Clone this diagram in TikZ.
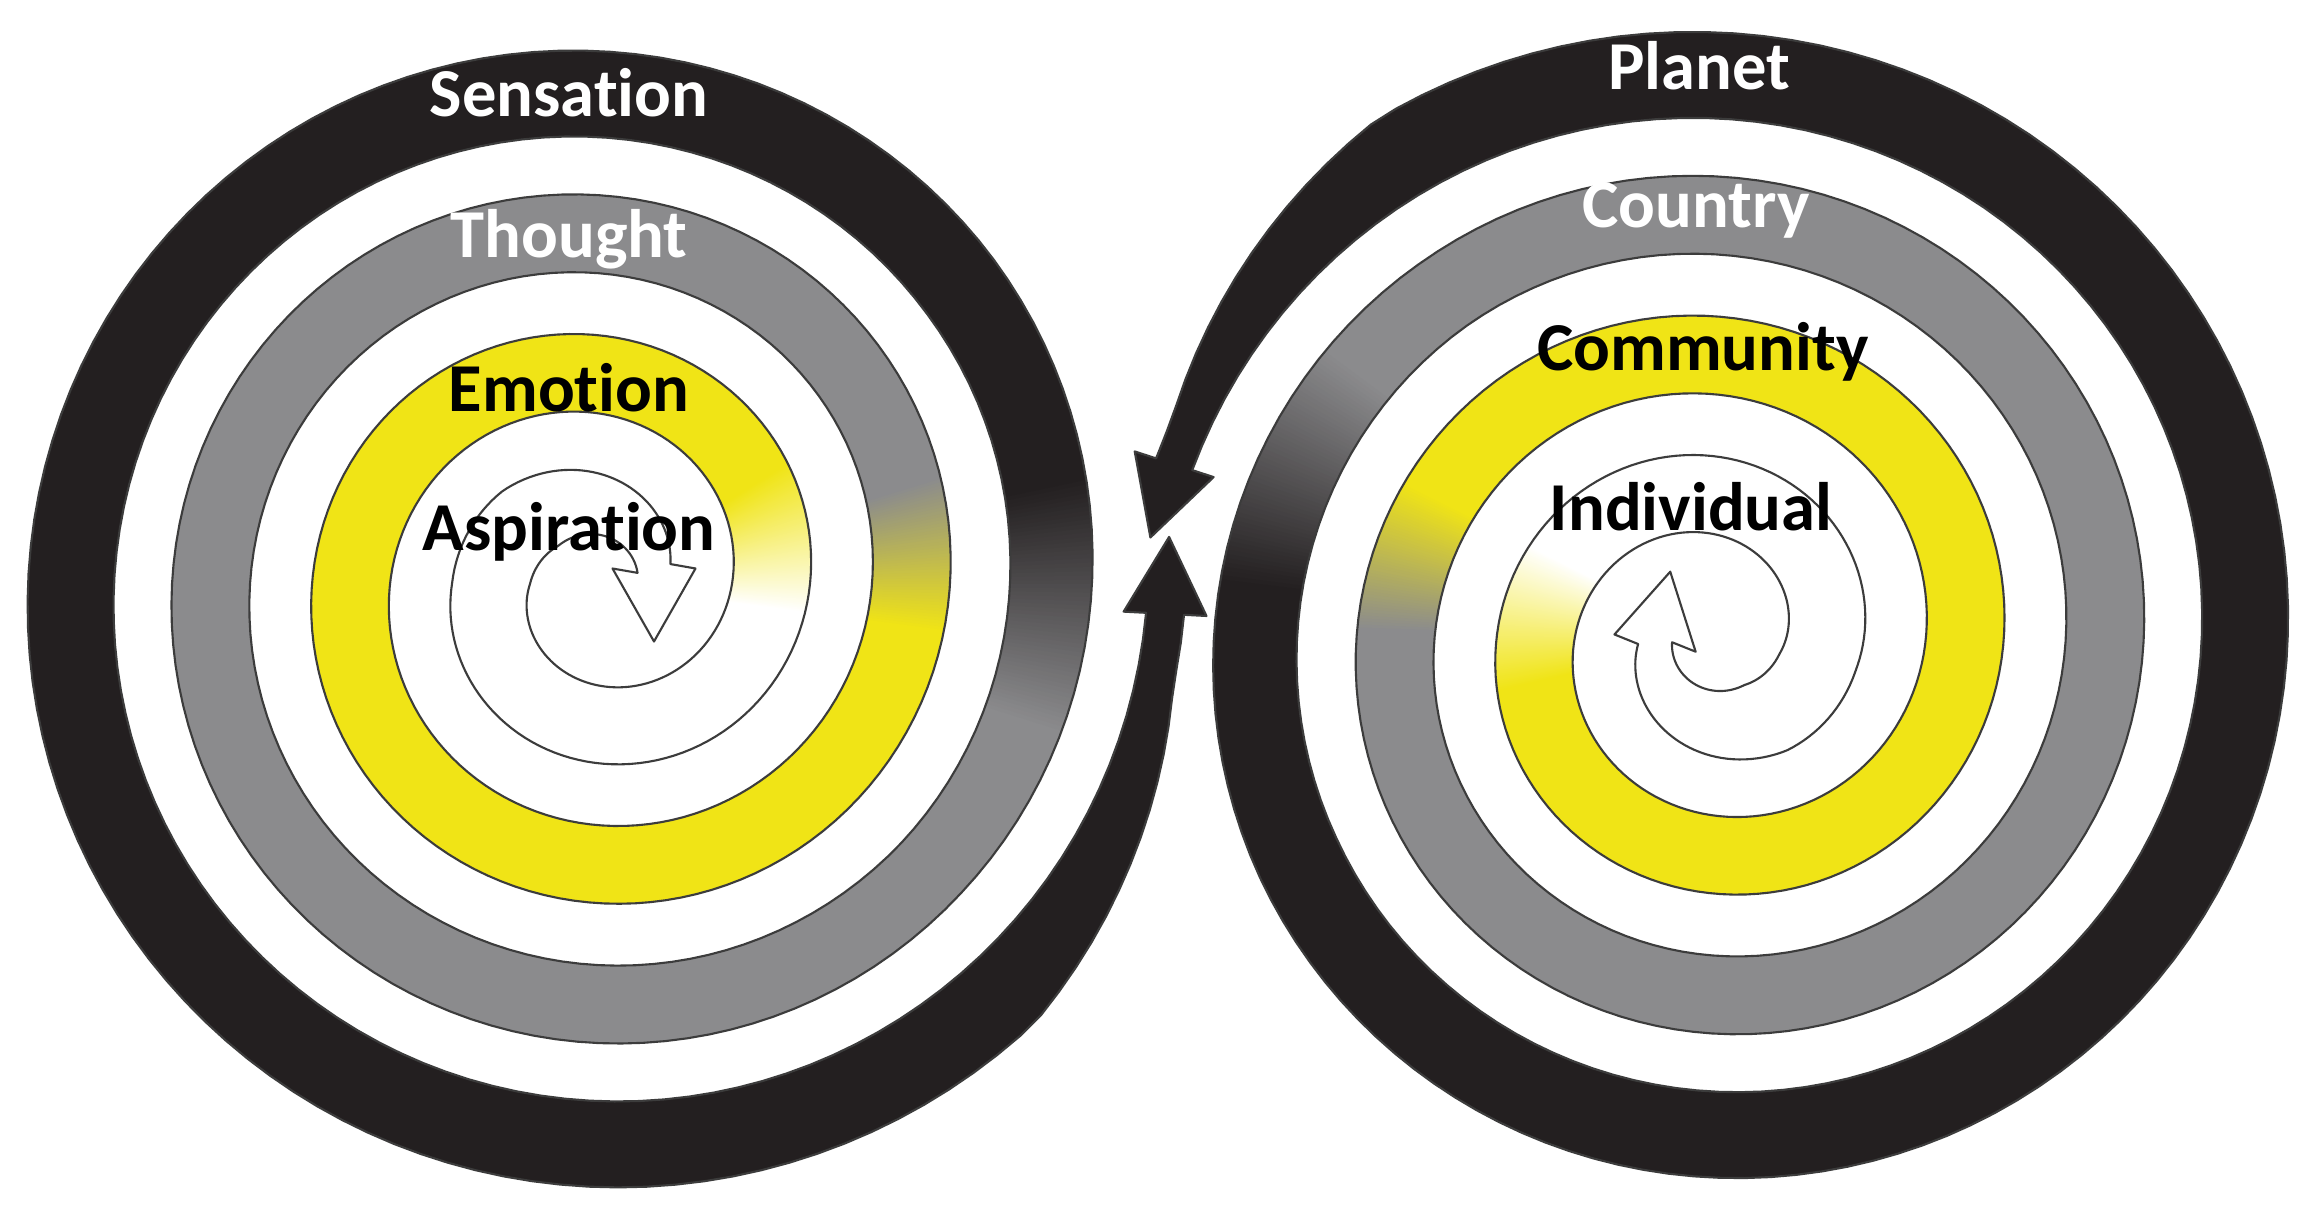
\documentclass[tikz,border=0pt]{standalone}
\usepackage{fontspec}
\setmainfont{Carlito}[Ligatures=NoCommon]
\definecolor{spyellow}{RGB}{240,228,22}
\definecolor{spgray}{RGB}{139,139,141}
\definecolor{spblack}{RGB}{35,31,32}
\definecolor{spedge}{RGB}{60,60,60}
\tikzset{
  declare function={
    rc(\u)=(\u<180)*(60+(\u-15)/165*45)+(1-(\u<180))*(105+(\u-180)/360*140)-24*min(1,max(0,(\u-1395)/35));
    bw(\u)=34+44*min(1,max(0,(\u-15)/120))+8*min(1,max(0,(\u-1040)/80))-48*min(1,max(0,(\u-1395)/35));
    ri(\u)=rc(\u)-bw(\u)/2;
    ro(\u)=rc(\u)+bw(\u)/2;
  },
  bandedge/.style={draw=spedge, line width=0.6pt, line join=round},
  ringtext/.style={font=\fontsize{19.5}{23}\selectfont\bfseries, inner sep=0pt},
}
% spiral band: centre x, centre y, rotation, colour shift, outer end
\def\spiralband#1#2#3#4#5{%
  \begin{scope}[shift={(#1,#2)}, rotate=#3]
    \pgfmathsetmacro\wa{360+#4}\pgfmathsetmacro\wb{400+#4}
    \pgfmathsetmacro\ga{720+#4}\pgfmathsetmacro\gb{745+#4}
    \pgfmathsetmacro\ka{1070+#4}\pgfmathsetmacro\kb{1100+#4}
    \pgfmathsetmacro\wbb{\wb-1}\pgfmathsetmacro\gaa{\ga+1}
    \pgfmathsetmacro\gbb{\gb-1}\pgfmathsetmacro\kaa{\ka+1}
    \pgfmathsetmacro\kbb{\kb-1}
    \fill[spyellow] plot[variable=\t, domain=\wbb:\gaa, samples=110] (\t:{ro(\t)})
      -- plot[variable=\t, domain=\gaa:\wbb, samples=110] (\t:{ri(\t)}) -- cycle;
    \fill[spgray] plot[variable=\t, domain=\gbb:\kaa, samples=110] (\t:{ro(\t)})
      -- plot[variable=\t, domain=\kaa:\gbb, samples=110] (\t:{ri(\t)}) -- cycle;
    \fill[spblack] plot[variable=\t, domain=\kbb:#5, samples=110] (\t:{ro(\t)})
      -- (#5:{rc(#5)+41.5})
      -- ({rc(#5)*cos(#5)+77*cos(#5+90)},{rc(#5)*sin(#5)+77*sin(#5+90)})
      -- (#5:{rc(#5)-41.5})
      -- plot[variable=\t, domain=#5:\kbb, samples=110] (\t:{ri(\t)}) -- cycle;
    % colour changes from one turn to the next
    \foreach \za/\nn/\zw/\ca/\cb in {\wa/80/40/white/spyellow, \ga/50/25/spyellow/spgray,
        \ka/60/30/spgray/spblack} {
      \foreach \k in {0,...,\nn} {
        \pgfmathsetmacro\ph{\za+\k*\zw/\nn}
        \pgfmathsetmacro\bb{\ph+1.2}
        \pgfmathsetmacro\tt{100*\k/\nn}
        \colorlet{segc}{\cb!\tt!\ca}
        \fill[segc] (\ph:{ri(\ph)}) -- (\ph:{ro(\ph)}) -- (\bb:{ro(\bb)}) -- (\bb:{ri(\bb)}) -- cycle;
      }
    }
    \draw[bandedge] (58,-57.5) -- (99.5,15.5)
      -- plot[variable=\t, domain=15:#5, samples=520] (\t:{ro(\t)})
      -- (#5:{rc(#5)+41.5})
      -- ({rc(#5)*cos(#5)+77*cos(#5+90)},{rc(#5)*sin(#5)+77*sin(#5+90)})
      -- (#5:{rc(#5)-41.5})
      -- plot[variable=\t, domain=#5:15, samples=520] (\t:{ri(\t)})
      -- (16.5,15.5) -- cycle;
  \end{scope}}

\begin{document}
\begin{tikzpicture}[x=0.01cm, y=0.01cm]
\fill[white] (0,0) rectangle (2316,1206);
\useasboundingbox (0,0) rectangle (2316,1206);
\spiralband{596}{622}{0}{-8}{1437}
\spiralband{1715}{566}{168}{-15}{1434}
% left spiral
\node[ringtext, text=white] (sensation) at (569,1113) {Sensation};
\node[ringtext, text=white] (thought) at (569,967) {Thought};
\node[ringtext] (emotion) at (569,818) {Emotion};
\node[ringtext] (aspiration) at (569,674) {Aspiration};
% right spiral
\node[ringtext, text=white] (planet) at (1699,1140) {Planet};
\node[ringtext, text=white] (country) at (1696,996) {Country};
\node[ringtext] (community) at (1703,854) {Community};
\node[ringtext] (individual) at (1691,699) {Individual};
\end{tikzpicture}
\end{document}
